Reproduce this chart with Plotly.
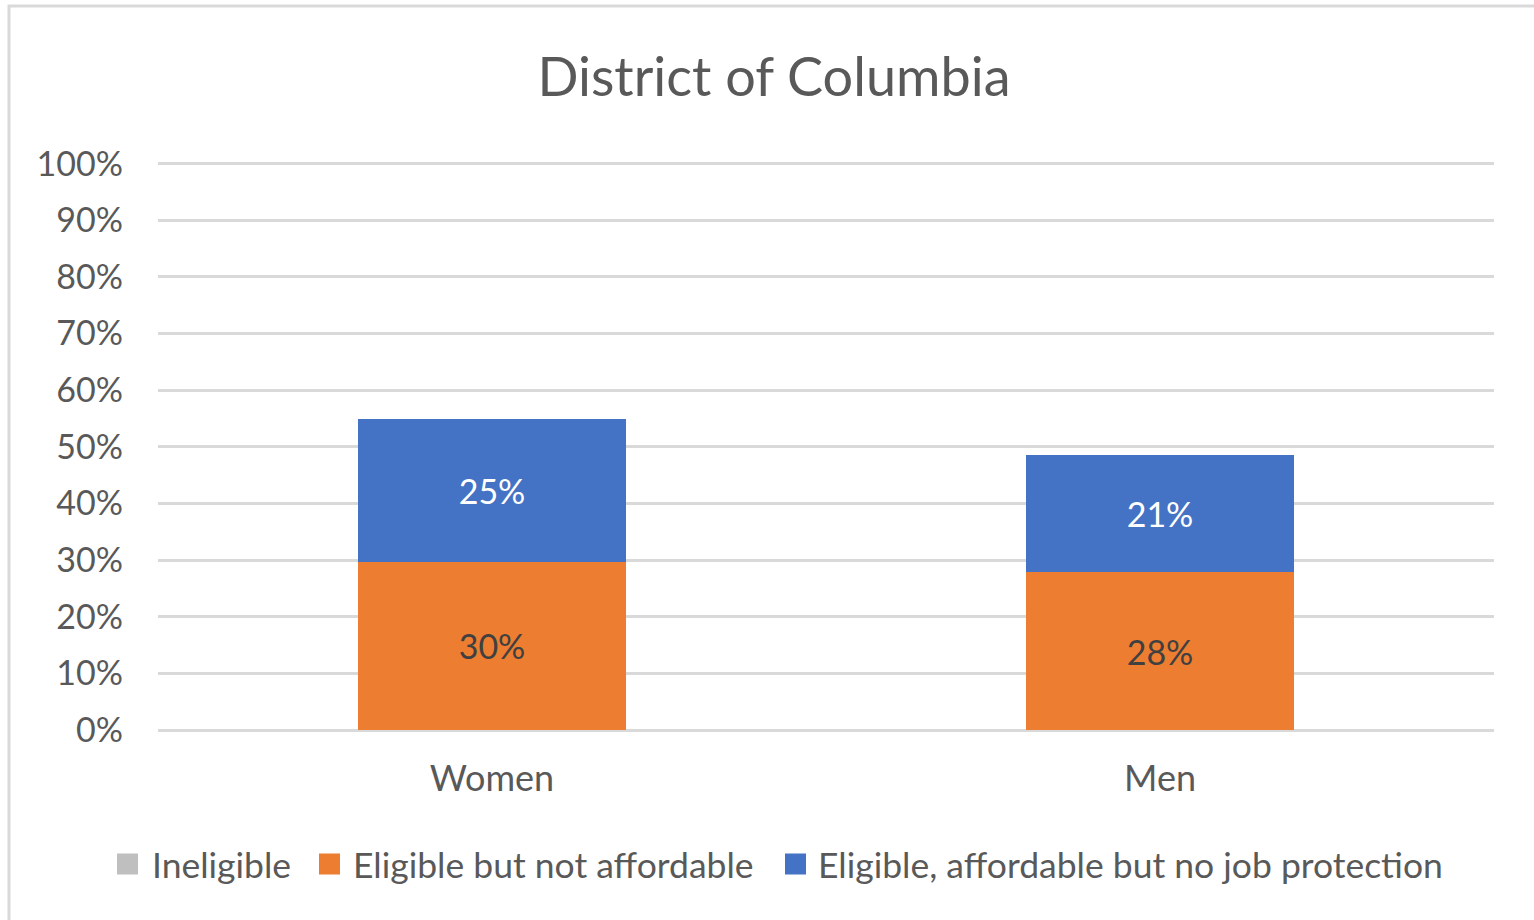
import plotly.graph_objects as go

categories = ["Women", "Men"]
series_names = ["Ineligible", "Eligible but not affordable", "Eligible, affordable but no job protection"]
ineligible = [0.0, 0.0]
not_affordable = [0.297, 0.279]
no_job_protection = [0.252, 0.206]
colors = ["#A5A5A5", "#ED7D31", "#4472C4"]
legend_colors = ["#BFBFBF", "#ED7D31", "#4472C4"]
label_colors = ["#404040", "#404040", "#FFFFFF"]
y_ticks = [0, 0.1, 0.2, 0.3, 0.4, 0.5, 0.6, 0.7, 0.8, 0.9, 1.0]
y_tick_labels = ["0%", "10%", "20%", "30%", "40%", "50%", "60%", "70%", "80%", "90%", "100%"]

FONT = "Lato, Open Sans, sans-serif"
W, H = 1534, 920
L, R, T, B = 158, 40, 162, 190
pw, ph = W - L - R, H - T - B

fig = go.Figure()
values = [ineligible, not_affordable, no_job_protection]
for name, vals, col, lc in zip(series_names, values, colors, label_colors):
    texts = [f"{v*100:.0f}%" if v > 0 else "" for v in vals]
    fig.add_trace(go.Bar(
        x=categories, y=vals, name=name,
        marker=dict(color=col, line=dict(width=0)),
        text=texts, textposition="inside", insidetextanchor="middle",
        textfont=dict(family=FONT, size=34, color=lc),
        hoverinfo="skip", showlegend=False,
    ))

def px_x(px):
    return (px - L) / pw

def px_y(py):
    return (H - B - py) / ph

fig.update_layout(
    width=W, height=H, autosize=False,
    barmode="stack", bargap=0.6,
    margin=dict(l=L, r=R, t=T, b=B),
    paper_bgcolor="white", plot_bgcolor="white",
    title=dict(text="District of Columbia", x=px_x(774), xref="paper", xanchor="center",
               y=1 - 77 / H, yanchor="middle",
               font=dict(family=FONT, size=54, color="#595959")),
    xaxis=dict(showgrid=False, showline=False, zeroline=False, ticks="",
               tickfont=dict(family=FONT, size=36, color="#595959"),
               ticklabelstandoff=24, range=[-0.5, 1.5]),
    yaxis=dict(range=[0, 1.003], tickvals=y_ticks, ticktext=y_tick_labels,
               showgrid=True, gridcolor="#D9D9D9", gridwidth=2.5,
               zeroline=True, zerolinecolor="#D9D9D9", zerolinewidth=2.5,
               showline=False, ticks="",
               tickfont=dict(family=FONT, size=34, color="#595959"),
               ticklabelstandoff=34),
    showlegend=False,
)

# custom legend (square markers + text), matching the reference layout
legend_square_x = [117, 319, 785]
legend_text_x = [150, 351, 816]
for name, col, sx, tx in zip(series_names, legend_colors, legend_square_x, legend_text_x):
    fig.add_shape(type="rect", xref="paper", yref="paper",
                  x0=px_x(sx), x1=px_x(sx + 21), y0=px_y(874.5), y1=px_y(853.5),
                  fillcolor=col, line=dict(width=0))
    fig.add_annotation(text=name, xref="paper", yref="paper",
                       x=px_x(tx), y=px_y(864), xanchor="left", yanchor="middle",
                       showarrow=False, font=dict(family=FONT, size=35.5, color="#595959"))

# chart frame (left and top edges visible)
fig.add_shape(type="path", xref="paper", yref="paper",
              path=f"M {px_x(9)} {px_y(925)} L {px_x(9)} {px_y(6)} L {px_x(1540)} {px_y(6)}",
              line=dict(color="#D9D9D9", width=3))

fig.write_html("out.html", config={"displayModeBar": False},
               post_script="document.body.style.margin='0';")
